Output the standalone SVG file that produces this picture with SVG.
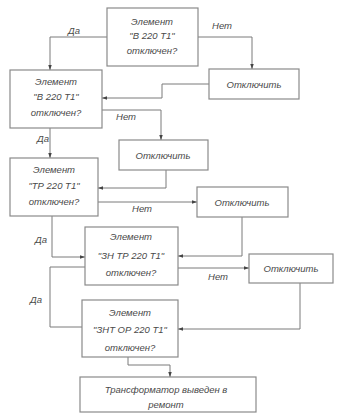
<svg xmlns="http://www.w3.org/2000/svg" width="338" height="414" viewBox="0 0 338 414">
<style>
.box{fill:#fff;stroke:#8a8a8a;stroke-width:1.2}
.t{font-family:"Liberation Sans",Arial,sans-serif;font-style:italic;font-size:9.5px;fill:#4a4a4a;text-anchor:middle}
.c{fill:none;stroke:#7a7a7a;stroke-width:1}
.a{marker-end:url(#ar)}
</style>
<defs>
<marker id="ar" viewBox="0 0 10 10" refX="10" refY="5" markerWidth="5" markerHeight="5" orient="auto" markerUnits="userSpaceOnUse">
<path d="M0,1.5 L10,5 L0,8.5 z" fill="#444"/>
</marker>
</defs>
<rect width="338" height="414" fill="#fff"/>
<g id="connectors">
<path class="c a" d="M107,37 H50 V70"/>
<path class="c a" d="M198,37 H252 V69"/>
<path class="c a" d="M209,84 H162 V98 H102"/>
<path class="c a" d="M102,110 H161 V140"/>
<path class="c a" d="M50,128 V158"/>
<path class="c a" d="M166,170 V188 H98"/>
<path class="c a" d="M98,202 H197"/>
<path class="c a" d="M52,216 V257 H85"/>
<path class="c a" d="M242,217 V256 H178"/>
<path class="c a" d="M178,268 H249"/>
<path class="c" d="M85,267 H50 V327 H82"/>
<path class="c a" d="M300,283 V329 H178"/>
<path class="c a" d="M128,357 V365 H170 V377"/>
<text class="t" x="74" y="34">Да</text>
<text class="t" x="222" y="29">Нет</text>
<text class="t" x="126" y="120">Нет</text>
<text class="t" x="43" y="142">Да</text>
<text class="t" x="142" y="212">Нет</text>
<text class="t" x="41" y="243">Да</text>
<text class="t" x="218" y="280">Нет</text>
<text class="t" x="36" y="303">Да</text>
</g>
<g id="q1">
<rect class="box" x="107" y="8" width="91" height="58"/>
<text class="t" x="152" y="25">Элемент</text>
<text class="t" x="152" y="39">"В 220 Т1"</text>
<text class="t" x="152" y="54">отключен?</text>
</g>
<g id="off1">
<rect class="box" x="209" y="69" width="90" height="30"/>
<text class="t" x="254" y="88">Отключить</text>
</g>
<g id="q2">
<rect class="box" x="10" y="70" width="92" height="58"/>
<text class="t" x="56" y="85">Элемент</text>
<text class="t" x="56" y="100">"В 220 Т1"</text>
<text class="t" x="56" y="116">отключен?</text>
</g>
<g id="off2">
<rect class="box" x="119" y="140" width="89" height="30"/>
<text class="t" x="163" y="159">Отключить</text>
</g>
<g id="q3">
<rect class="box" x="10" y="158" width="88" height="58"/>
<text class="t" x="54" y="173">Элемент</text>
<text class="t" x="54" y="189">"ТР 220 Т1"</text>
<text class="t" x="54" y="205">отключен?</text>
</g>
<g id="off3">
<rect class="box" x="197" y="187" width="91" height="30"/>
<text class="t" x="242" y="206">Отключить</text>
</g>
<g id="q4">
<rect class="box" x="85" y="227" width="93" height="58"/>
<text class="t" x="131" y="240">Элемент</text>
<text class="t" x="131" y="259">"ЗН ТР 220 Т1"</text>
<text class="t" x="131" y="276">отключен?</text>
</g>
<g id="off4">
<rect class="box" x="249" y="254" width="84" height="29"/>
<text class="t" x="291" y="272">Отключить</text>
</g>
<g id="q5">
<rect class="box" x="82" y="300" width="96" height="57"/>
<text class="t" x="130" y="316">Элемент</text>
<text class="t" x="130" y="333">"ЗНТ ОР 220 Т1"</text>
<text class="t" x="130" y="351">отключен?</text>
</g>
<g id="result">
<rect class="box" x="80" y="377" width="176" height="35"/>
<text class="t" x="166" y="393">Трансформатор выведен в</text>
<text class="t" x="166" y="408">ремонт</text>
</g>
</svg>
